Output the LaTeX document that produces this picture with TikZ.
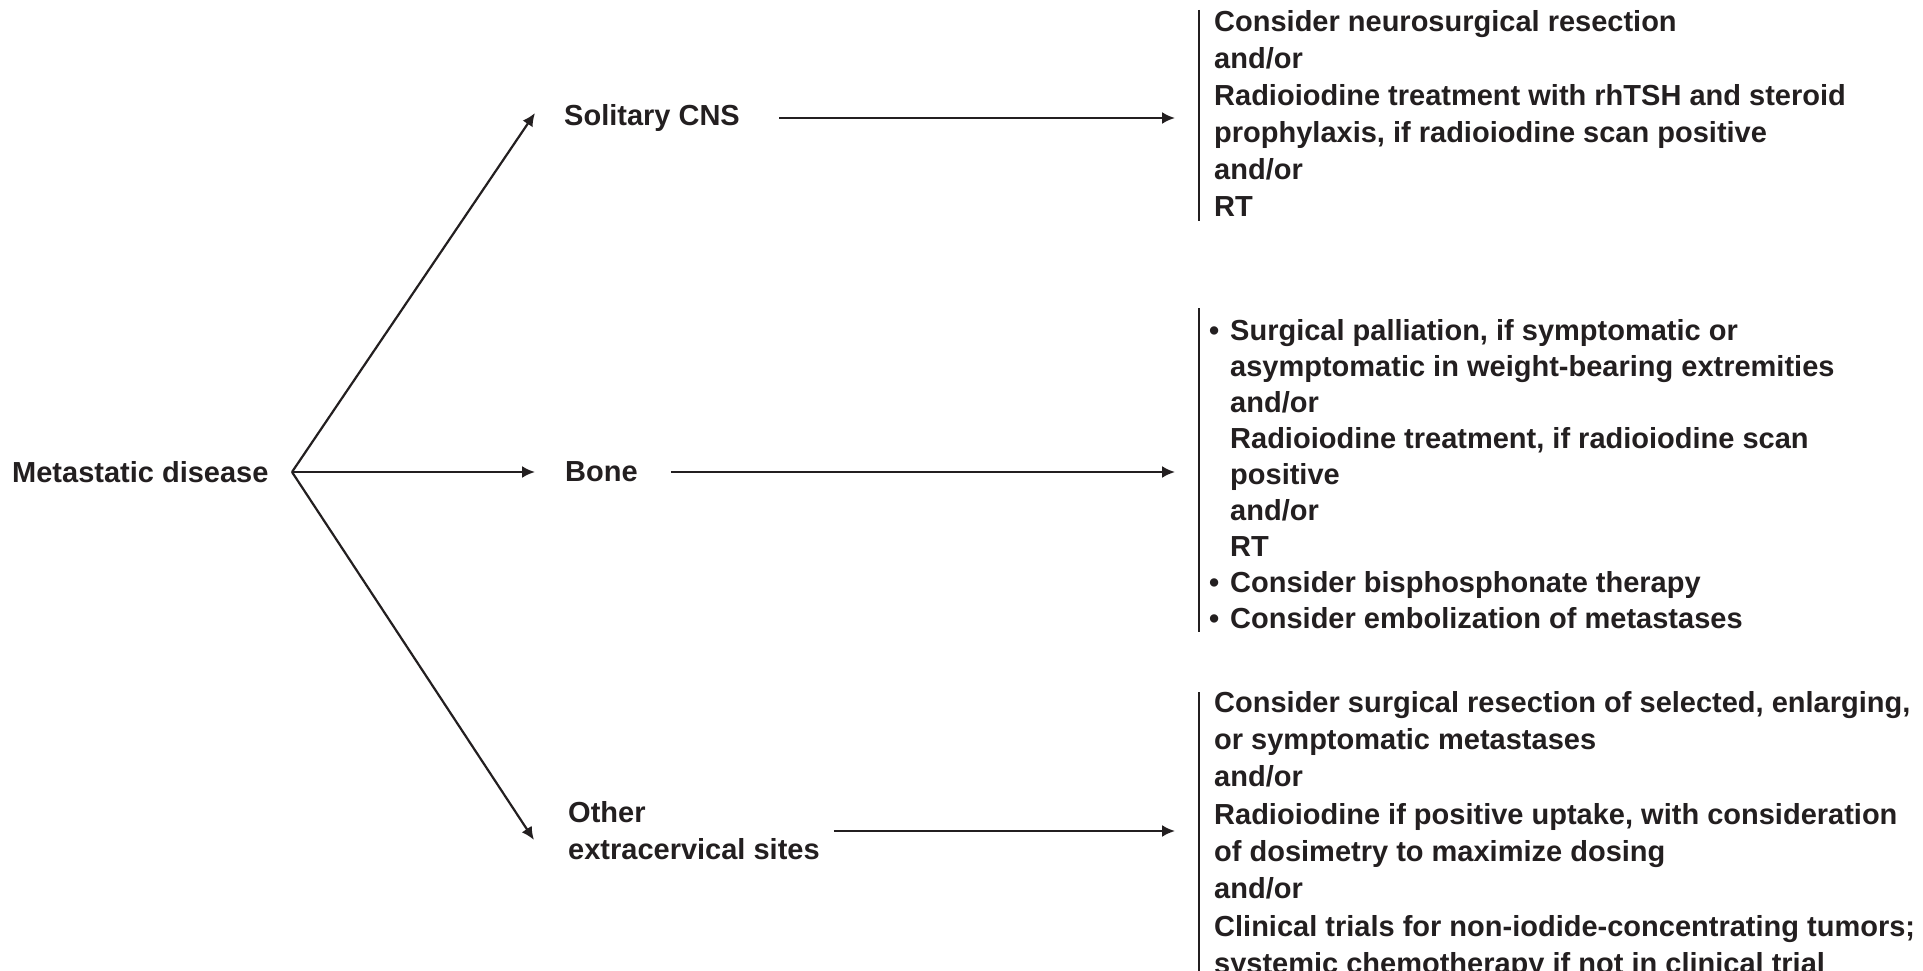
\documentclass[tikz,border=0pt]{standalone}
\usepackage{fontspec}
\setmainfont{Liberation Sans}
\usetikzlibrary{arrows.meta}
\definecolor{ink}{HTML}{231F20}
\begin{document}
\begin{tikzpicture}[x=1pt,y=-1pt,
  lbl/.style={font=\bfseries\fontsize{29}{37}\selectfont, inner sep=0pt, align=left, text=ink},
  arr/.style={line width=2.2pt, draw=ink, -{Latex[length=13pt,width=12pt]}},
  bar/.style={line width=2.2pt, draw=ink}]
\useasboundingbox (0,0) rectangle (1923,971);
% left labels
\node[lbl, anchor=west] (meta) at (12,472) {Metastatic disease};
\coordinate (fork) at (292,472);
\node[lbl, anchor=west] (cns) at (564,118) {Solitary CNS};
\node[lbl, anchor=west] (bone) at (565,472) {Bone};
\node[lbl, anchor=west] (other) at (568,831) {Other\\extracervical sites};
% tips
\coordinate (cnstip) at ([xshift=-29pt,yshift=5pt]cns.west);
\coordinate (bonetip) at ([xshift=-30pt]bone.west);
\coordinate (othertip) at ([xshift=-34pt,yshift=-9pt]other.west);
\draw[arr] (fork) -- (cnstip);
\draw[arr] (fork) -- (bonetip);
\draw[arr] (fork) -- (othertip);
% right blocks
\node[lbl, anchor=north west] (t1) at (1214,10) {Consider neurosurgical resection\\
and/or\\
Radioiodine treatment with rhTSH and steroid\\
prophylaxis, if radioiodine scan positive\\
and/or\\
RT};
\node[lbl, anchor=north west, font=\bfseries\fontsize{29}{36}\selectfont] (t2) at (1209,319) {\makebox[21pt][l]{\textbullet}Surgical palliation, if symptomatic or\\
\hspace*{21pt}asymptomatic in weight-bearing extremities\\
\hspace*{21pt}and/or\\
\hspace*{21pt}Radioiodine treatment, if radioiodine scan\\
\hspace*{21pt}positive\\
\hspace*{21pt}and/or\\
\hspace*{21pt}RT\\
\makebox[21pt][l]{\textbullet}Consider bisphosphonate therapy\\
\makebox[21pt][l]{\textbullet}Consider embolization of metastases};
\node[lbl, anchor=north west, font=\bfseries\fontsize{29}{37.3}\selectfont] (t3) at (1214,691) {Consider surgical resection of selected, enlarging,\\
or symptomatic metastases\\
and/or\\
Radioiodine if positive uptake, with consideration\\
of dosimetry to maximize dosing\\
and/or\\
Clinical trials for non-iodide-concentrating tumors;\\
systemic chemotherapy if not in clinical trial};
% bars
\draw[bar] (1199,10) -- (1199,221);
\draw[bar] (1199,308) -- (1199,632);
\draw[bar] (1199,692) -- (1199,971);
% arrows to blocks
\draw[arr] ([xshift=39pt]cns.east) -- ([xshift=-39pt]cns.east -| t1.west);
\draw[arr] ([xshift=33pt]bone.east) -- ([xshift=-39pt]bone.east -| t1.west);
\draw[arr] ([xshift=14pt]other.east) -- ([xshift=-39pt]other.east -| t3.west);
\end{tikzpicture}
\end{document}
